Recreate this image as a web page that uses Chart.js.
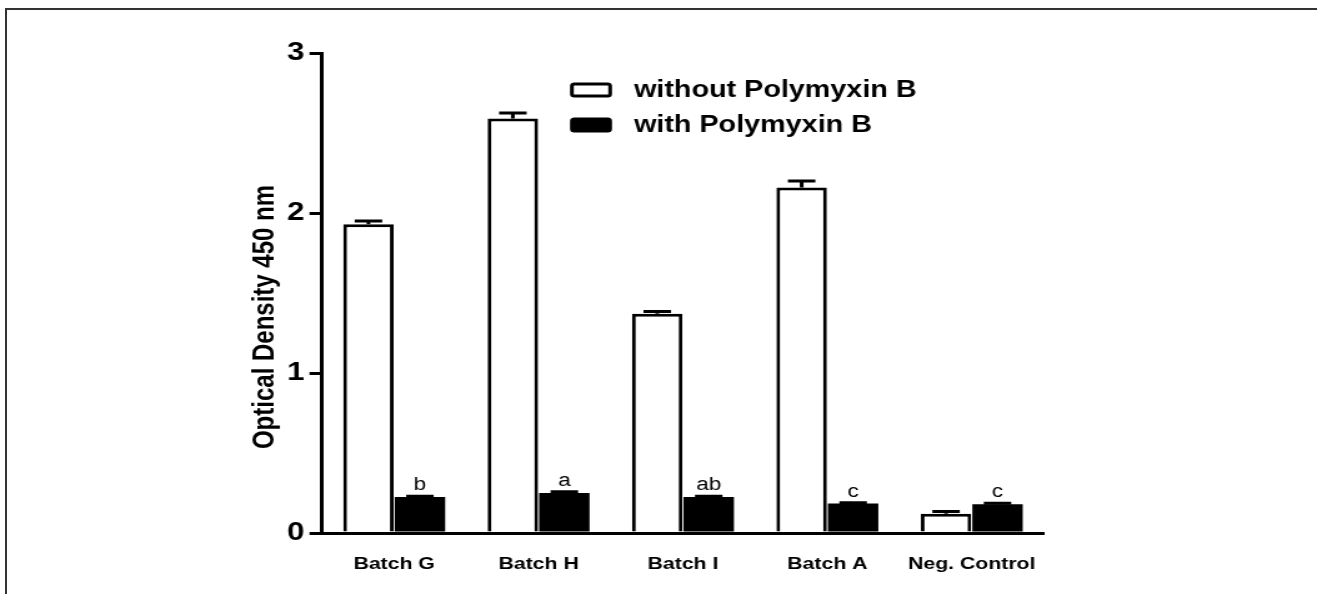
<!DOCTYPE html>
<html>
<head>
<meta charset="utf-8">
<title>Optical Density 450 nm</title>
<script src="https://cdn.jsdelivr.net/npm/chart.js@4.4.1/dist/chart.umd.min.js"></script>
<style>
  html, body { margin: 0; padding: 0; background: #fff; overflow: hidden; }
  #frame { position: absolute; left: 5px; top: 8px; width: 1400px; height: 700px;
           border-top: 2px solid #333; border-left: 2px solid #333; }
  /* the original figure is stretched horizontally, so draw narrow and scale */
  #wrap { position: absolute; left: 0; top: 0; width: 1054px; height: 594px;
          transform: scaleX(1.2495); transform-origin: 0 0; }
</style>
</head>
<body>
<div id="frame"></div>
<div id="wrap"><canvas id="chart"></canvas></div>
<script>
const categories = ['Batch G', 'Batch H', 'Batch I', 'Batch A', 'Neg. Control'];
const withoutPB = [1.93, 2.59, 1.37, 2.16, 0.12];
const withoutErr = [0.02, 0.035, 0.015, 0.04, 0.015];
const withPB = [0.225, 0.25, 0.225, 0.185, 0.18];
const withErr = [0.005, 0.008, 0.004, 0.004, 0.006];
const letters = ['b', 'a', 'ab', 'c', 'c'];
const yTicks = [0, 1, 2, 3];
const yTitle = 'Optical Density 450 nm';

const FONT = '"Liberation Sans", Arial, sans-serif';

// error bars (upper half only) drawn through the y scale
const errorBars = {
    id: 'errorBars',
    afterDatasetsDraw(chart) {
        const ctx = chart.ctx;
        const y = chart.scales.y;
        ctx.save();
        ctx.strokeStyle = '#000';
        ctx.lineWidth = 3;
        chart.data.datasets.forEach(function (ds, i) {
            chart.getDatasetMeta(i).data.forEach(function (bar, j) {
                const base = y.getPixelForValue(ds.data[j]);
                const top = y.getPixelForValue(ds.data[j] + ds.errors[j]);
                ctx.beginPath();
                ctx.moveTo(bar.x, base);
                ctx.lineTo(bar.x, top);
                ctx.moveTo(bar.x - 11, top);
                ctx.lineTo(bar.x + 11, top);
                ctx.stroke();
            });
        });
        ctx.restore();
    }
};

// significance letters above the black bars
const sigLetters = {
    id: 'sigLetters',
    afterDatasetsDraw(chart) {
        const ctx = chart.ctx;
        const y = chart.scales.y;
        const ds = chart.data.datasets[1];
        ctx.save();
        ctx.fillStyle = '#000';
        ctx.font = '18px ' + FONT;
        ctx.textAlign = 'center';
        ctx.textBaseline = 'alphabetic';
        chart.getDatasetMeta(1).data.forEach(function (bar, j) {
            const top = y.getPixelForValue(ds.data[j] + ds.errors[j]);
            ctx.fillText(letters[j], bar.x, top - 6);
        });
        ctx.restore();
    }
};

// legend inside the plot, boxes + bold labels
const boxLegend = {
    id: 'boxLegend',
    afterDraw(chart) {
        const ctx = chart.ctx;
        const rows = [90, 125];
        ctx.save();
        chart.data.datasets.forEach(function (ds, i) {
            const cy = rows[i];
            ctx.beginPath();
            ctx.roundRect(457.7, cy - 6, 30.6, 12, 2);
            ctx.fillStyle = ds.backgroundColor;
            ctx.fill();
            ctx.lineWidth = 3;
            ctx.strokeStyle = '#000';
            ctx.stroke();
            ctx.fillStyle = '#000';
            ctx.font = 'bold 23px ' + FONT;
            ctx.textAlign = 'left';
            ctx.textBaseline = 'middle';
            ctx.fillText(ds.label, 507.4, cy + 1);
        });
        ctx.restore();
    }
};

// y axis title, placed a little below the axis middle like the original
const axisTitle = {
    id: 'axisTitle',
    afterDraw(chart) {
        const ctx = chart.ctx;
        ctx.save();
        ctx.translate(212, 317);
        ctx.rotate(-Math.PI / 2);
        ctx.fillStyle = '#000';
        ctx.font = 'bold 24px ' + FONT;
        ctx.textAlign = 'center';
        ctx.textBaseline = 'middle';
        ctx.fillText(yTitle, 0, 0);
        ctx.restore();
    }
};

new Chart(document.getElementById('chart'), {
    type: 'bar',
    data: {
        labels: categories,
        datasets: [{
            label: 'without Polymyxin B',
            data: withoutPB,
            errors: withoutErr,
            backgroundColor: '#ffffff',
            borderColor: '#000000',
            borderWidth: 3,
        }, {
            label: 'with Polymyxin B',
            data: withPB,
            errors: withErr,
            backgroundColor: '#000000',
            borderColor: '#000000',
            borderWidth: 0,
        }]
    },
    options: {
        responsive: true,
        maintainAspectRatio: false,
        animation: false,
        categoryPercentage: 0.713,
        barPercentage: 0.98,
        layout: { padding: { left: 190, right: 218.5, top: 53, bottom: 0 } },
        plugins: {
            legend: { display: false },
            tooltip: { enabled: false },
        },
        scales: {
            x: {
                z: 1,
                grid: { display: false },
                border: { display: true, color: '#000', width: 3 },
                ticks: {
                    color: '#000',
                    padding: 13,
                    font: { family: FONT, size: 17, weight: 'bold' },
                },
                afterFit(scale) { scale.height = 61; },
            },
            y: {
                min: 0,
                max: 3,
                afterBuildTicks(scale) { scale.ticks = yTicks.map(v => ({ value: v })); },
                grid: {
                    drawOnChartArea: false,
                    drawTicks: true,
                    tickLength: 10,
                    color: '#000',
                    lineWidth: 3,
                },
                border: { display: true, color: '#000', width: 3 },
                ticks: {
                    color: '#000',
                    padding: 4,
                    font: { family: FONT, size: 25, weight: 'bold' },
                },
                afterFit(scale) { scale.width = 67.7; },
            }
        }
    },
    plugins: [errorBars, sigLetters, boxLegend, axisTitle]
});
</script>
</body>
</html>
